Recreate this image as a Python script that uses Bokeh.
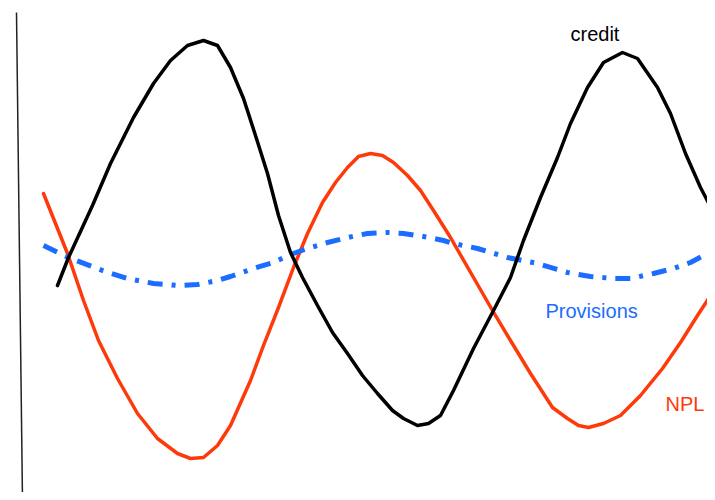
from bokeh.plotting import figure
from bokeh.models import Range1d, Label
from bokeh.embed import file_html
from bokeh.resources import INLINE

# Values (x in screen-like units, y downward)
credit_x = [57, 68, 92, 110, 133, 153, 170, 187, 203, 217, 230, 243, 255, 267, 278, 290, 302,
            317, 332, 347, 362, 377, 392, 403, 417, 428, 440, 453, 473, 493, 510, 523, 540,
            557, 570, 587, 603, 622, 637, 657, 670, 685, 700, 712, 716]
credit_y = [285, 257, 205, 163, 117, 83, 60, 45, 40, 45, 67, 98, 135, 173, 215, 252, 277,
            305, 332, 353, 375, 393, 410, 418, 425, 423, 415, 390, 348, 310, 277, 240, 197,
            157, 123, 87, 62, 52, 58, 87, 113, 153, 187, 210, 220]

npl_x = [43, 67, 83, 98, 117, 137, 157, 177, 190, 203, 217, 230, 238, 250, 263, 278, 293,
         307, 322, 335, 347, 358, 370, 382, 393, 407, 420, 433, 450, 473, 492, 510, 530,
         552, 567, 578, 588, 603, 620, 640, 662, 680, 697, 712, 716]
npl_y = [193, 253, 300, 340, 378, 413, 438, 453, 458, 457, 445, 425, 407, 380, 345, 307, 267,
         233, 202, 182, 167, 156, 153, 155, 162, 175, 190, 210, 237, 277, 310, 340, 373,
         407, 418, 425, 427, 423, 415, 395, 368, 342, 315, 292, 286]

prov_x = [43, 68, 102, 127, 153, 178, 197, 217, 230, 253, 273, 290, 307, 327, 347, 367, 387,
          403, 423, 443, 453, 477, 507, 537, 567, 590, 613, 630, 653, 673, 690, 707, 716]
prov_y = [245, 257, 270, 278, 283, 285, 284, 280, 276, 268, 262, 254, 248, 242, 237, 233, 232,
          233, 236, 240, 243, 248, 257, 263, 272, 276, 278, 278, 273, 268, 262, 253, 250]

axis_x = [16, 22]
axis_y = [12, 500]

W, H = 707, 492
p = figure(width=W, height=H, output_backend="svg", toolbar_location=None,
           x_range=Range1d(0, W), y_range=Range1d(H, 0),
           min_border=0, min_border_left=0, min_border_right=0,
           min_border_top=0, min_border_bottom=0)
p.xaxis.visible = False
p.yaxis.visible = False
p.xgrid.visible = False
p.ygrid.visible = False
p.outline_line_color = None
p.background_fill_color = "white"
p.border_fill_color = "white"

p.line(axis_x, axis_y, line_color="#222222", line_width=1.5)

RED = "#ff3a0a"
BLUE = "#1a6dff"
p.line(npl_x, npl_y, line_color=RED, line_width=3.5, line_join="round", line_cap="round")
p.line(prov_x, prov_y, line_color=BLUE, line_width=5, line_dash="15 9 4 9")
p.line(credit_x, credit_y, line_color="black", line_width=3.5, line_join="round", line_cap="round")

font = "Liberation Sans"
p.add_layout(Label(x=570, y=33, text="credit", text_color="black", text_font=font,
                   text_font_size="20px", text_baseline="middle"))
p.add_layout(Label(x=545, y=310, text="Provisions", text_color=BLUE, text_font=font,
                   text_font_size="20px", text_baseline="middle"))
p.add_layout(Label(x=665, y=403, text="NPL", text_color=RED, text_font=font,
                   text_font_size="20px", text_baseline="middle"))

open("out.html", "w").write(file_html(p, INLINE))
